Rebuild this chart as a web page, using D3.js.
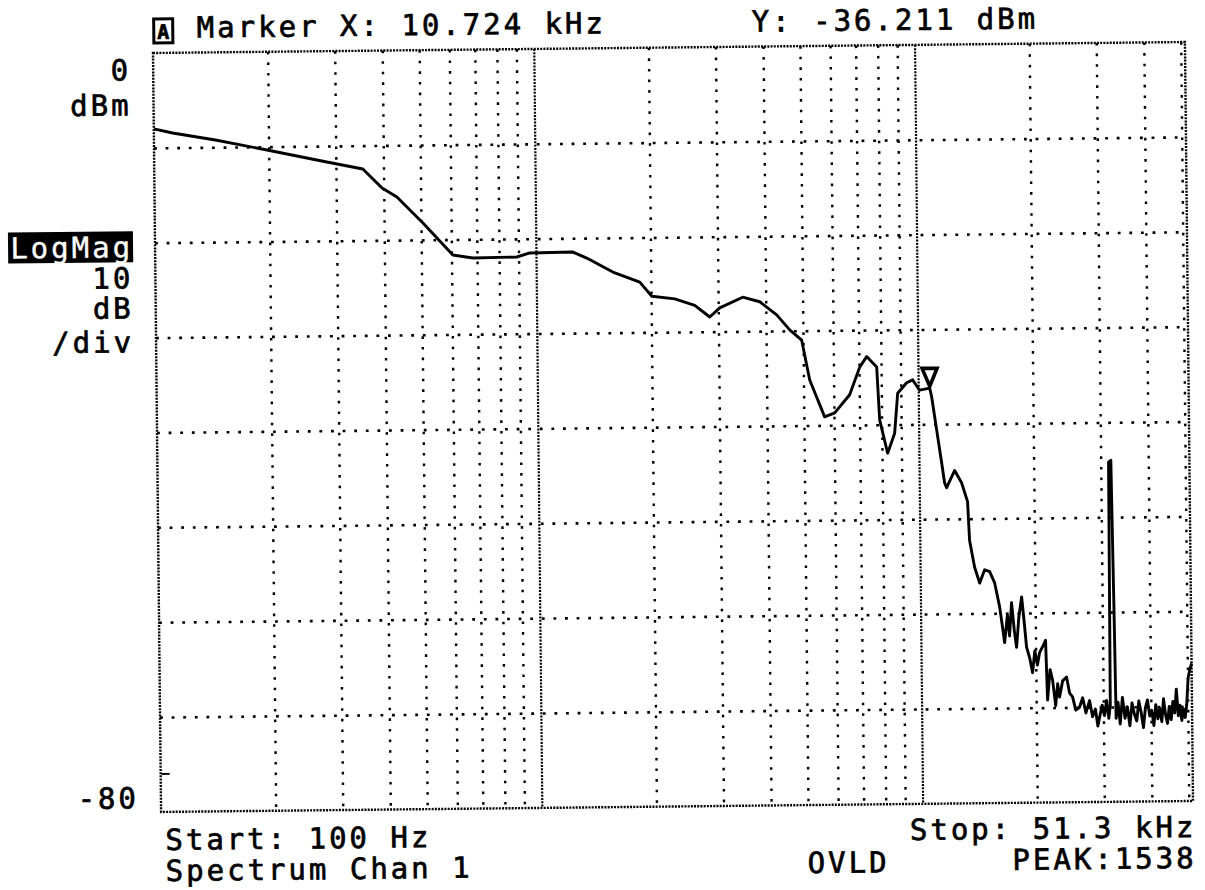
<!DOCTYPE html>
<html>
<head>
<meta charset="utf-8">
<script src="https://cdn.jsdelivr.net/npm/d3@7"></script>
<style>
  html, body { margin: 0; padding: 0; background: #fff; }
  svg { display: block; }
  text { font-family: "DejaVu Sans Mono", "Liberation Mono", monospace; font-size: 29px; fill: #000; stroke: #000; stroke-width: 0.7px; letter-spacing: 3px; }
</style>
</head>
<body>
<svg id="chart" width="1205" height="890"></svg>
<script>
// ---------------- data ----------------
const freqHz = [100,112,145,198,284,353,396,433,506,605,683,890,964,1250,1359,1590,1870,2009,2308,2603,2849,3027,3481,3858,4271,4615,4959,5192,5670,6026,6605,7030,7338,7790,7906,8279,8648,8829,9329,9674,10085,10724,10840,11150,11470,11660,11800,12400,12920,13380,13510,13900,14320,14770,15220,15680,16130,16400,16590,16900,17100,17340,17600,17830,18100,18440,18700,18940,19300,19610,19900,20200,20480,20900,21250,21430,21800,22120,22500,22800,23050,23500,24070,24500,24930,25400,25980,26500,27000,27620,28100,28600,29000,29310,29800,30200,30610,31000,31300,31460,31900,32200,32400,32800,33200,33700,34200,34700,35200,35700,36200,36700,37200,37700,38200,38700,39200,39700,40200,40700,41200,41700,42200,42700,43200,43700,44200,44700,45200,45700,46200,46700,47200,47700,48200,48700,49200,49700,50200,50700,51300];
const levelDbm = [-8.0,-8.45,-9.24,-10.35,-11.68,-12.46,-14.49,-15.45,-18.22,-21.63,-21.97,-21.91,-21.5,-21.45,-22.1,-23.6,-24.7,-26.2,-26.5,-27.2,-28.45,-27.5,-26.4,-26.9,-28.3,-29.9,-31.0,-35.2,-39.1,-38.7,-36.8,-33.9,-32.8,-33.9,-39.5,-43.0,-40.9,-36.7,-35.6,-35.3,-36.4,-36.2,-37.1,-40.6,-44.1,-46.2,-46.7,-44.9,-46.2,-48.2,-52.3,-55.1,-56.8,-55.4,-55.6,-56.8,-59.3,-61.5,-63.1,-60.2,-62.4,-58.9,-61.8,-63.6,-60.5,-58.3,-61.0,-63.6,-64.8,-66.3,-64.0,-65.5,-64.2,-63.5,-62.9,-69.2,-66.0,-67.1,-69.8,-67.5,-68.9,-67.2,-66.8,-68.5,-68.9,-70.3,-70.0,-69.0,-70.6,-69.3,-71.0,-70.2,-72.0,-71.1,-69.8,-70.9,-69.3,-71.2,-69.8,-44.2,-44.0,-59.5,-71.2,-69.5,-71.8,-69.0,-71.2,-70.0,-72.0,-69.6,-70.8,-71.5,-69.4,-70.6,-72.2,-70.1,-69.3,-71.0,-70.4,-72.0,-69.8,-71.3,-70.2,-71.6,-69.2,-70.9,-71.8,-70.0,-71.4,-69.5,-70.7,-68.2,-71.0,-69.9,-71.5,-70.3,-71.2,-69.8,-67.0,-66.2,-65.5];

const freqDomain = [100, 51300];
const levelDomain = [0, -80];
const minorGridHz = [200,300,400,500,600,700,800,900,2000,3000,4000,5000,6000,7000,8000,9000,20000,30000,40000,50000];
const decadeGridHz = [1000, 10000];
const levelGrid = [-10,-20,-30,-40,-50,-60,-70];

const markerFreq = 10724;
const markerLevel = -36.211;

const markerXText = "Marker X: 10.724 kHz";
const markerYText = "Y: -36.211 dBm";
const topLevelLabel = ["0", "dBm"];
const scaleLabel = ["LogMag", "10", "dB", "/div"];
const bottomLevelLabel = "-80";
const startText = "Start: 100 Hz";
const modeText = "Spectrum Chan 1";
const stopText = "Stop: 51.3 kHz";
const ovldText = "OVLD";
const peakText = "PEAK:1538";

// ---------------- layout ----------------
const W = 1032, H = 759;
const svg = d3.select("#chart");
svg.append("rect").attr("width", 1205).attr("height", 890).attr("fill", "#fff");

const g = svg.append("g").attr("transform", "translate(153,53) rotate(-0.61)");

const x = d3.scaleLog().domain(freqDomain).range([0, W]);
const y = d3.scaleLinear().domain(levelDomain).range([0, H]);

// minor vertical gridlines (sparse dots)
const gMinor = g.append("g")
  .call(d3.axisBottom(x).tickValues(minorGridHz).tickSize(H).tickFormat(""));
gMinor.select(".domain").remove();
gMinor.selectAll("line").attr("stroke", "#000").attr("stroke-width", 2.4)
  .attr("stroke-dasharray", "2.6,8");

// decade vertical gridlines (dense dots)
const gDec = g.append("g")
  .call(d3.axisBottom(x).tickValues(decadeGridHz).tickSize(H).tickFormat(""));
gDec.select(".domain").remove();
gDec.selectAll("line").attr("stroke", "#000").attr("stroke-width", 2.2)
  .attr("stroke-dasharray", "2,1.3");

// horizontal gridlines
const gH = g.append("g")
  .call(d3.axisRight(y).tickValues(levelGrid).tickSize(W).tickFormat(""));
gH.select(".domain").remove();
gH.selectAll("line").attr("stroke", "#000").attr("stroke-width", 2.6)
  .attr("stroke-dasharray", "2.8,8.8");

// frame (dense dotted)
g.append("rect").attr("x", 0).attr("y", 0).attr("width", W).attr("height", H)
  .attr("fill", "none").attr("stroke", "#000").attr("stroke-width", 2.4)
  .attr("stroke-dasharray", "2,1.2");

// small reference tick on left edge
g.append("line").attr("x1", 1).attr("x2", 9).attr("y1", y(-76)).attr("y2", y(-76))
  .attr("stroke", "#000").attr("stroke-width", 1.8);

// trace
const pts = freqHz.map((f, i) => [f, levelDbm[i]]);
g.append("path").datum(pts)
  .attr("fill", "none").attr("stroke", "#000").attr("stroke-width", 2.9)
  .attr("stroke-linejoin", "round")
  .attr("d", d3.line().x(d => x(d[0])).y(d => y(d[1])));

// marker triangle
const mx = x(markerFreq), my = y(markerLevel);
g.append("path")
  .attr("d", `M${mx - 7.5},${my - 20} L${mx + 7.5},${my - 20} L${mx},${my - 2} Z`)
  .attr("fill", "#fff").attr("stroke", "#000").attr("stroke-width", 3.6)
  .attr("stroke-linejoin", "miter");

// ---------------- texts ----------------
// marker "A" box
g.append("rect").attr("x", 1).attr("y", -34).attr("width", 19).attr("height", 24)
  .attr("fill", "#fff").attr("stroke", "#000").attr("stroke-width", 3);
g.append("text").attr("x", 10.5).attr("y", -14).attr("text-anchor", "middle")
  .style("font-size", "20px").style("font-weight", "bold").style("letter-spacing", "0px").text("A");

g.append("text").attr("x", 44).attr("y", -15).text(markerXText);
g.append("text").attr("x", 599).attr("y", -15).text(markerYText);

// left labels (right aligned)
const lx = -22;
g.append("text").attr("x", lx).attr("y", 27).attr("text-anchor", "end").text(topLevelLabel[0]);
g.append("text").attr("x", lx).attr("y", 62).attr("text-anchor", "end").text(topLevelLabel[1]);

g.append("rect").attr("x", -147).attr("y", 178).attr("width", 125).attr("height", 31).attr("fill", "#000");
g.append("text").attr("x", lx).attr("y", 204).attr("text-anchor", "end")
  .style("fill", "#fff").style("stroke", "#fff").style("stroke-width", "0.4px").text(scaleLabel[0]);
g.append("text").attr("x", lx).attr("y", 235).attr("text-anchor", "end").text(scaleLabel[1]);
g.append("text").attr("x", lx).attr("y", 265).attr("text-anchor", "end").text(scaleLabel[2]);
g.append("text").attr("x", lx).attr("y", 299).attr("text-anchor", "end").text(scaleLabel[3]);
g.append("text").attr("x", lx).attr("y", 755).attr("text-anchor", "end").text(bottomLevelLabel);

// bottom labels
g.append("text").attr("x", 4).attr("y", 797).text(startText);
g.append("text").attr("x", 4).attr("y", 828).text(modeText);
g.append("text").attr("x", 1035).attr("y", 795).attr("text-anchor", "end").text(stopText);
g.append("text").attr("x", 646).attr("y", 827).text(ovldText);
g.append("text").attr("x", 1035).attr("y", 826).attr("text-anchor", "end").text(peakText);
</script>
</body>
</html>
